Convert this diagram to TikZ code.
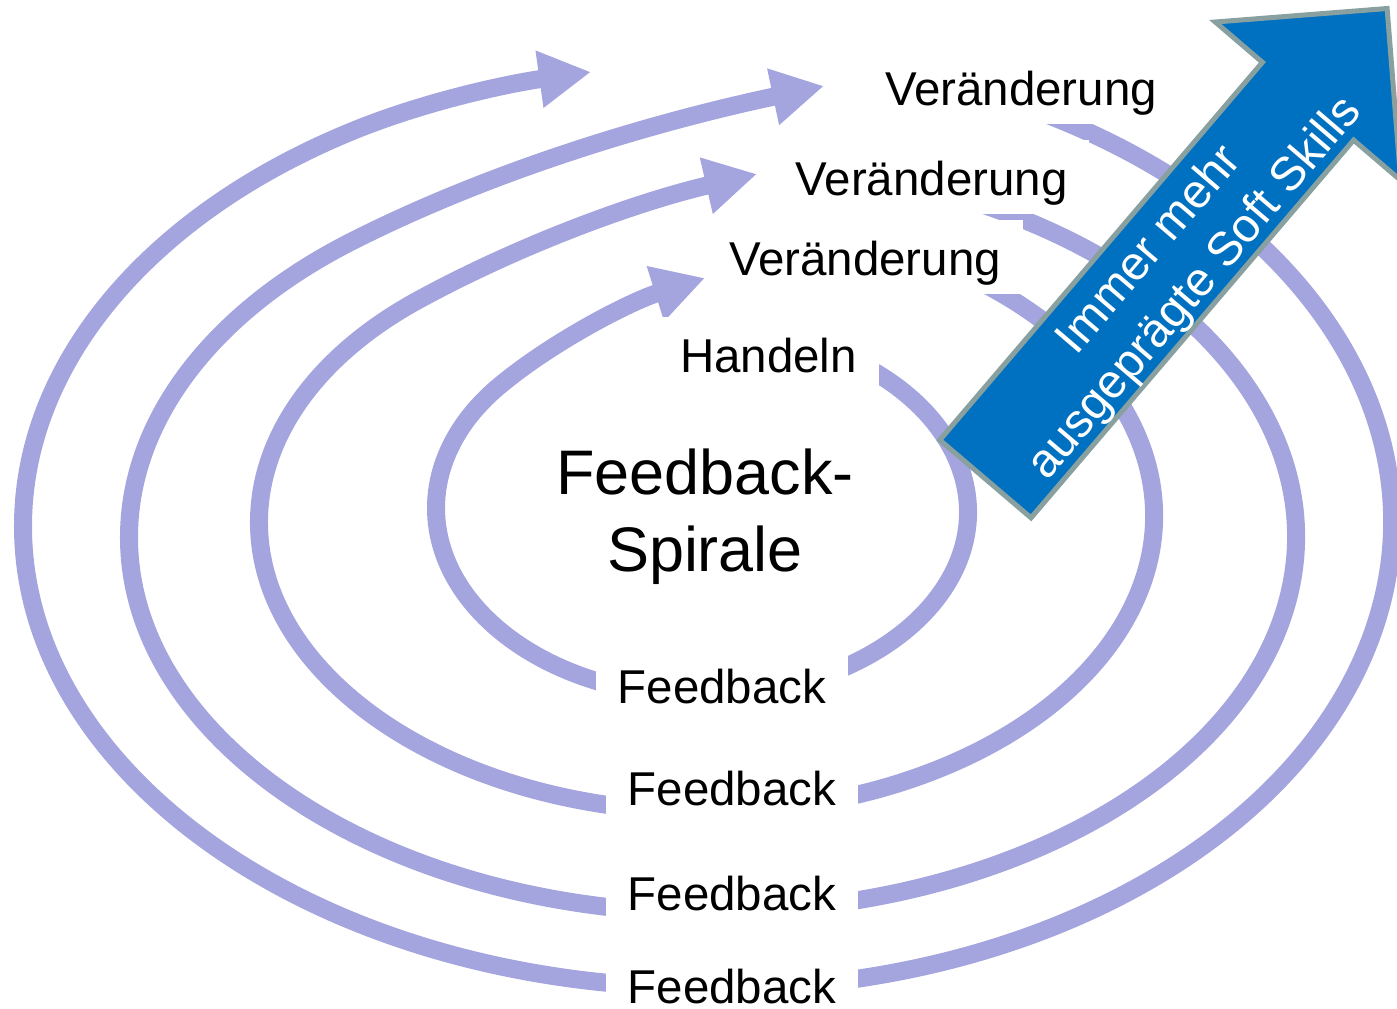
\documentclass[tikz,border=0pt]{standalone}
\usepackage{fontspec}
\setmainfont{Liberation Sans}
\usetikzlibrary{arrows.meta}

\definecolor{spiral}{RGB}{164,164,222}
\definecolor{skillblue}{RGB}{0,112,192}
\definecolor{skillrim}{RGB}{137,160,160}

\begin{document}
\begin{tikzpicture}[
  x=0.01cm, y=-0.01cm,
  curve/.style={draw=spiral, line width=0.18cm},
  tipped/.style={curve, -{Triangle[length=0.52cm,width=0.54cm]}},
  word/.style={fill=white, inner xsep=0.22cm, inner ysep=0pt,
    text height=0.55cm, text depth=0.19cm, anchor=base,
    font=\fontsize{13.5}{16}\selectfont}
  ]
  \useasboundingbox (0,0) rectangle (1397,1008);

  % right halves, from the top label down to the feedback
  \draw[curve] (702,512) ++(-62:266 and 184) arc[start angle=-62, end angle=68, x radius=266, y radius=184];
  \draw[curve] (706,516) ++(-72:448 and 296) arc[start angle=-72, end angle=80, x radius=448, y radius=296];
  \draw[curve] (712,537) ++(-80:584 and 375) arc[start angle=-80, end angle=85, x radius=584, y radius=375];
  \draw[curve] (716,522) ++(-75:676 and 467) arc[start angle=-75, end angle=86, x radius=676, y radius=467];

  % left halves, from the feedback up to the next change
  \draw[tipped] (702,508) ++(105:266 and 188.5) arc[start angle=105, end angle=219, x radius=266, y radius=188.5]
    .. controls (548,344) and (629,302) .. (705,278);
  \draw[tipped] (706,522) ++(95:447 and 290) arc[start angle=95, end angle=230, x radius=447, y radius=290]
    .. controls (523,243) and (640,201) .. (757,174);
  \draw[tipped] (712,537) ++(93:583 and 376) arc[start angle=93, end angle=232, x radius=583, y radius=376]
    .. controls (499,167) and (663,120) .. (824,86);
  \draw[tipped] (706,526) ++(92:683 and 461.6) arc[start angle=92, end angle=239, x radius=683, y radius=461.6]
    .. controls (429,100) and (512,83) .. (591,72);

  \node[word] (ver1) at (1021,105) {Veränderung};
  \node[word] (ver2) at (931.5,195) {Veränderung};
  \node[word] (ver3) at (865,275) {Veränderung};
  \node[word] (act) at (768.5,372) {Handeln};
  \node[word] (fb1) at (722,703) {Feedback};
  \node[word] (fb2) at (732,805) {Feedback};
  \node[word] (fb3) at (732,910) {Feedback};
  \node[word] (fb4) at (732,1003) {Feedback};

  \node[align=center, font=\fontsize{17.9}{21.9}\selectfont] (title) at (705,517) {Feedback-\\Spirale};

  % growing soft skills
  \draw[draw=skillrim, fill=skillblue, line width=0.05cm]
    (939.8,440) -- (1262.4,62.3) -- (1215.3,22) -- (1387.1,8.5)
    -- (1400.7,180.4) -- (1353.6,140.1) -- (1031,517.8) -- cycle;
  \node[rotate=49.5, align=center, text=white, font=\fontsize{13.5}{16.8}\selectfont] (skills) at (1173,270)
    {Immer mehr\\ausgeprägte Soft Skills};
\end{tikzpicture}
\end{document}
